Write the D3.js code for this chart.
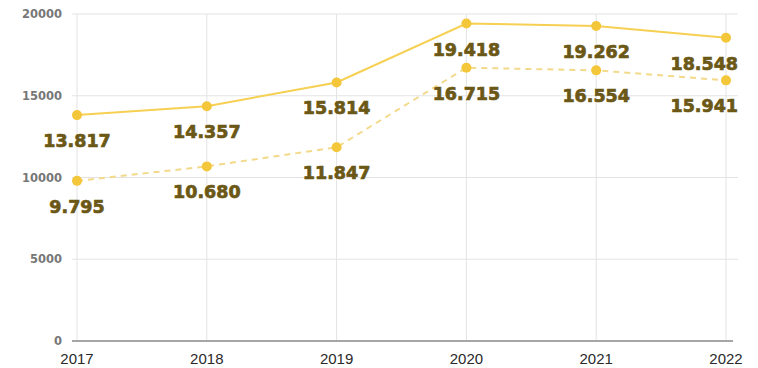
<!DOCTYPE html>
<html>
<head>
<meta charset="utf-8">
<script src="https://cdn.jsdelivr.net/npm/d3@7"></script>
<style>
  body { margin: 0; background: #fff; }
  svg { display: block; }
</style>
</head>
<body>
<div class="canvas"></div>
<script>
// Data
const years = ['2017', '2018', '2019', '2020', '2021', '2022']
const solidValues = [13817, 14357, 15814, 19418, 19262, 18548]
const dashedValues = [9795, 10680, 11847, 16715, 16554, 15941]
const yTicks = [0, 5000, 10000, 15000, 20000]

const width = 758
const height = 368

const svg = d3.select('.canvas')
  .append('svg')
  .attr('width', width)
  .attr('height', height)

// Plot area
const plotLeft = 72, plotRight = 738, plotTop = 14, plotBottom = 341

// Scales
const x = d3.scalePoint()
  .domain(years)
  .range([77, 726])

const y = d3.scaleLinear()
  .domain([0, 20000])
  .range([plotBottom, plotTop])

// Gridlines
svg.append('g')
  .selectAll('line')
  .data(yTicks.filter(d => d > 0))
  .enter()
  .append('line')
  .attr('x1', plotLeft)
  .attr('x2', plotRight)
  .attr('y1', d => y(d))
  .attr('y2', d => y(d))
  .attr('stroke', '#e3e3e3')
  .attr('stroke-width', 1)

svg.append('g')
  .selectAll('line')
  .data(years)
  .enter()
  .append('line')
  .attr('x1', d => x(d))
  .attr('x2', d => x(d))
  .attr('y1', plotTop)
  .attr('y2', plotBottom)
  .attr('stroke', '#e3e3e3')
  .attr('stroke-width', 1)

// Baseline
svg.append('line')
  .attr('x1', plotLeft)
  .attr('x2', 733)
  .attr('y1', y(0))
  .attr('y2', y(0))
  .attr('stroke', '#a6a6a6')
  .attr('stroke-width', 2)

// Y axis labels
svg.append('g')
  .selectAll('text')
  .data(yTicks)
  .enter()
  .append('text')
  .attr('x', 62)
  .attr('y', d => y(d))
  .attr('dy', '0.36em')
  .attr('text-anchor', 'end')
  .attr('font-family', 'DejaVu Sans')
  .attr('font-weight', 'bold')
  .attr('font-size', 11.5)
  .attr('fill', '#777')
  .text(d => d)

// X axis labels
svg.append('g')
  .selectAll('text')
  .data(years)
  .enter()
  .append('text')
  .attr('x', d => x(d))
  .attr('y', 364)
  .attr('text-anchor', 'middle')
  .attr('font-family', 'Liberation Sans, Arial, sans-serif')
  .attr('font-size', 15)
  .attr('fill', '#2a2a2a')
  .text(d => d)

const fmt = v => d3.format(',')(v).replace(/,/g, '.')

const drawSeries = (values, lineColor, dotColor, dash) => {
  const data = years.map((yr, i) => ({ year: yr, value: values[i] }))

  const line = d3.line()
    .x(d => x(d.year))
    .y(d => y(d.value))

  svg.append('path')
    .datum(data)
    .attr('d', line)
    .attr('fill', 'none')
    .attr('stroke', lineColor)
    .attr('stroke-width', 2)
    .attr('stroke-dasharray', dash)

  svg.append('g')
    .selectAll('circle')
    .data(data)
    .enter()
    .append('circle')
    .attr('cx', d => x(d.year))
    .attr('cy', d => y(d.value))
    .attr('r', 5)
    .attr('fill', dotColor)

  const labels = svg.append('g')
    .selectAll('text')
    .data(data)
    .enter()
    .append('text')
    .attr('x', d => x(d.year))
    .attr('y', d => y(d.value) + 32)
    .attr('text-anchor', 'middle')
    .attr('font-family', 'DejaVu Sans')
    .attr('font-weight', 'bold')
    .attr('font-size', 17.5)
    .attr('fill', '#6b5816')
    .attr('stroke', '#6b5816')
    .attr('stroke-width', 0.7)
    .text(d => fmt(d.value))

  // keep labels inside the plot on the right
  labels.each(function(d) {
    const w = this.getComputedTextLength()
    const cx = Math.min(x(d.year), plotRight - w / 2)
    d3.select(this).attr('x', cx)
  })
}

drawSeries(dashedValues, '#f3d98a', '#f4c63a', '6,5')
drawSeries(solidValues, '#f6d052', '#f4c63a', null)
</script>
</body>
</html>
